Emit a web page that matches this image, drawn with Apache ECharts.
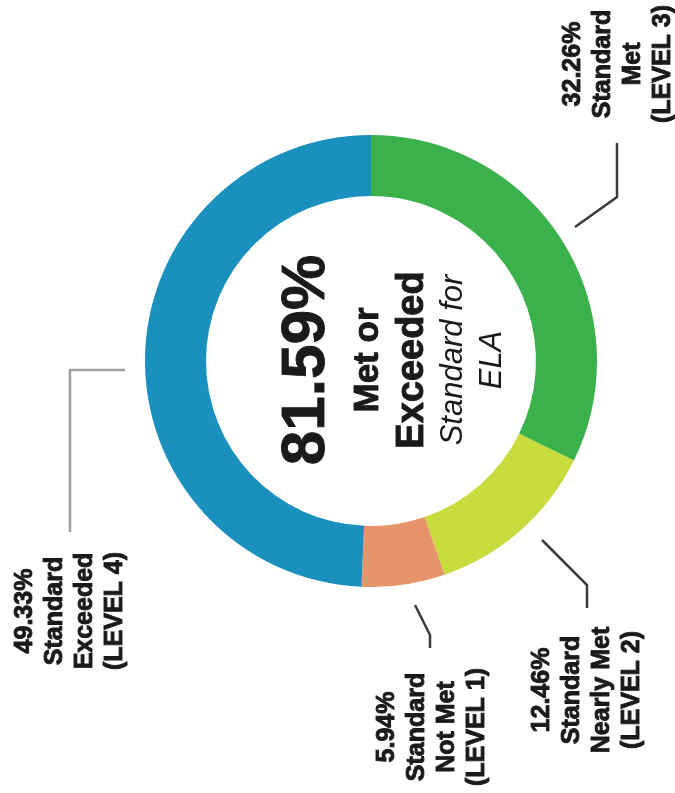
<!DOCTYPE html>
<html>
<head>
<meta charset="utf-8">
<script src="https://cdn.jsdelivr.net/npm/echarts@6/dist/echarts.min.js"></script>
<style>
  html, body { margin: 0; padding: 0; background: #ffffff; }
  #chart { width: 675px; height: 793px; }
</style>
</head>
<body>
<div id="chart"></div>
<script>
// ELA performance levels, clockwise from the top of the ring
const levels = ['Standard Met (LEVEL 3)', 'Standard Nearly Met (LEVEL 2)', 'Standard Not Met (LEVEL 1)', 'Standard Exceeded (LEVEL 4)'];
const percents = [32.26, 12.46, 5.94, 49.33];
const labelLines = [
  ['Standard', 'Met', '(LEVEL 3)'],
  ['Standard', 'Nearly Met', '(LEVEL 2)'],
  ['Standard', 'Not Met', '(LEVEL 1)'],
  ['Standard', 'Exceeded', '(LEVEL 4)']
];
const colors = ['#3bb14b', '#c8dc3e', '#e8946a', '#1990bd'];

// share that met or exceeded = Level 3 + Level 4
const metOrExceeded = percents[0] + percents[3];

const FONT = '"Liberation Sans", Arial, Helvetica, sans-serif';
const UP = Math.PI / 2; // text reads bottom-to-top
const INK = '#1a1a1a';

const chart = echarts.init(document.getElementById('chart'), null, { renderer: 'canvas' });

// outer label blocks (center point) and leader lines
const labelPos = [[618, 64], [587, 690], [432, 727], [70, 611]];
const leaders = [
  { pts: [[575, 227], [617, 197], [617, 143]], color: '#3c3c3c' },
  { pts: [[542, 540], [587, 585], [587, 608]], color: '#3c3c3c' },
  { pts: [[415, 605], [430, 635], [430, 648]], color: '#3c3c3c' },
  { pts: [[125, 370], [70, 370], [70, 532]], color: '#9e9e9e' }
];

function heavyText(x, y, text, size, extra) {
  return Object.assign({
    type: 'text', x: x, y: y, rotation: UP,
    style: {
      text: text,
      fontFamily: FONT, fontSize: size, fontWeight: 'bold',
      fill: INK, stroke: INK, lineWidth: 0.9,
      textAlign: 'center', textVerticalAlign: 'middle'
    }
  }, extra || {});
}

const graphics = [];
percents.forEach(function (p, i) {
  const t = heavyText(labelPos[i][0], labelPos[i][1],
    [p.toFixed(2) + '%'].concat(labelLines[i]).join('\n'), 25);
  t.style.lineHeight = 30;
  graphics.push(t);
  graphics.push({
    type: 'polyline',
    shape: { points: leaders[i].pts },
    style: { stroke: leaders[i].color, lineWidth: 2.5, fill: null }
  });
});

// center caption, one column per line
graphics.push(heavyText(307, 360, metOrExceeded.toFixed(2) + '%', 62));
graphics.push(heavyText(368, 360, 'Met or', 35));
graphics.push(heavyText(413, 360, 'Exceeded', 38));
[['Standard for', 453], ['ELA', 492]].forEach(function (c) {
  graphics.push({
    type: 'text', x: c[1], y: 360, rotation: UP,
    style: {
      text: c[0], fontFamily: FONT, fontSize: 31, fontStyle: 'italic',
      fill: INK, textAlign: 'center', textVerticalAlign: 'middle'
    }
  });
});

chart.setOption({
  animation: false,
  backgroundColor: '#ffffff',
  series: [{
    type: 'pie',
    center: [371, 361],
    radius: [165, 226],
    startAngle: 90,
    clockwise: true,
    label: { show: false },
    labelLine: { show: false },
    emphasis: { disabled: true },
    data: levels.map(function (name, i) {
      return { name: name, value: percents[i], itemStyle: { color: colors[i] } };
    })
  }],
  graphic: graphics
});
</script>
</body>
</html>
